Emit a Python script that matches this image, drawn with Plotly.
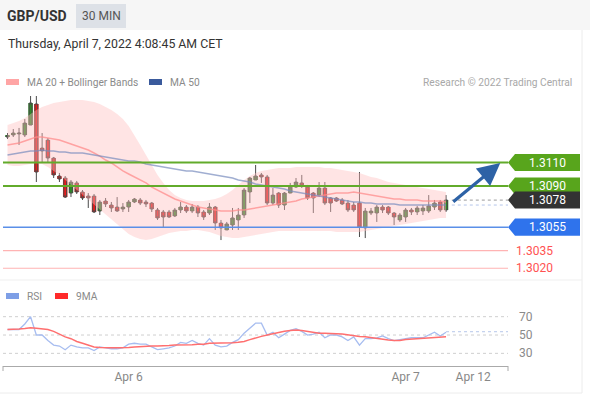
import plotly.graph_objects as go

W, H = 590, 398

# ---------------- data ----------------
idx = list(range(77))
open_ = [1.31317, 1.31334, 1.31343, 1.31334, 1.31419, 1.31598, 1.31223, 1.31291, 1.31138, 1.30985,
         1.30968, 1.30840, 1.30926, 1.30849, 1.30815, 1.30815, 1.30687, 1.30772, 1.30738, 1.30721,
         1.30704, 1.30721, 1.30764, 1.30781, 1.30764, 1.30755, 1.30696, 1.30679, 1.30679, 1.30645,
         1.30696, 1.30721, 1.30687, 1.30721, 1.30679, 1.30670, 1.30721, 1.30585, 1.30526, 1.30568,
         1.30611, 1.30653, 1.30849, 1.30951, 1.30994, 1.30977, 1.30755, 1.30840, 1.30738, 1.30840,
         1.30891, 1.30926, 1.30891, 1.30840, 1.30823, 1.30883, 1.30798, 1.30798, 1.30781, 1.30755,
         1.30738, 1.30755, 1.30543, 1.30670, 1.30670, 1.30721, 1.30721, 1.30670, 1.30611, 1.30636,
         1.30696, 1.30679, 1.30687, 1.30687, 1.30721, 1.30764, 1.30696]
high = [1.31351, 1.31385, 1.31394, 1.31470, 1.31666, 1.31666, 1.31351, 1.31308, 1.31147, 1.31011,
        1.30985, 1.30951, 1.30943, 1.30866, 1.30840, 1.30832, 1.30781, 1.30798, 1.30764, 1.30806,
        1.30755, 1.30781, 1.30798, 1.30798, 1.30781, 1.30764, 1.30713, 1.30696, 1.30696, 1.30713,
        1.30764, 1.30738, 1.30747, 1.30738, 1.30696, 1.30755, 1.30730, 1.30611, 1.30594, 1.30713,
        1.30713, 1.30883, 1.30977, 1.31079, 1.31011, 1.30994, 1.30883, 1.30849, 1.30849, 1.30926,
        1.30968, 1.30994, 1.30909, 1.30849, 1.30934, 1.30934, 1.30806, 1.30806, 1.30798, 1.30781,
        1.30764, 1.31019, 1.30713, 1.30713, 1.30738, 1.30738, 1.30730, 1.30679, 1.30670, 1.30713,
        1.30713, 1.30730, 1.30738, 1.30823, 1.30781, 1.30781, 1.30823]
low = [1.31300, 1.31317, 1.31249, 1.31317, 1.31419, 1.30934, 1.31104, 1.31104, 1.30968, 1.30934,
       1.30798, 1.30806, 1.30832, 1.30781, 1.30713, 1.30670, 1.30653, 1.30721, 1.30679, 1.30679,
       1.30679, 1.30679, 1.30755, 1.30738, 1.30721, 1.30679, 1.30611, 1.30543, 1.30628, 1.30636,
       1.30670, 1.30670, 1.30670, 1.30636, 1.30611, 1.30653, 1.30526, 1.30440, 1.30526, 1.30526,
       1.30526, 1.30628, 1.30755, 1.30951, 1.30926, 1.30738, 1.30738, 1.30713, 1.30696, 1.30840,
       1.30883, 1.30883, 1.30781, 1.30670, 1.30806, 1.30738, 1.30679, 1.30764, 1.30738, 1.30679,
       1.30679, 1.30466, 1.30457, 1.30653, 1.30594, 1.30670, 1.30653, 1.30568, 1.30594, 1.30594,
       1.30653, 1.30653, 1.30653, 1.30670, 1.30696, 1.30679, 1.30679]
close = [1.31326, 1.31351, 1.31351, 1.31436, 1.31606, 1.31019, 1.31198, 1.31138, 1.30994, 1.30960,
         1.30806, 1.30934, 1.30849, 1.30798, 1.30798, 1.30679, 1.30764, 1.30747, 1.30713, 1.30687,
         1.30721, 1.30764, 1.30789, 1.30755, 1.30747, 1.30704, 1.30628, 1.30636, 1.30636, 1.30696,
         1.30721, 1.30687, 1.30721, 1.30670, 1.30636, 1.30721, 1.30585, 1.30543, 1.30577, 1.30628,
         1.30653, 1.30866, 1.30968, 1.30985, 1.30977, 1.30755, 1.30823, 1.30738, 1.30840, 1.30891,
         1.30934, 1.30900, 1.30798, 1.30798, 1.30883, 1.30755, 1.30755, 1.30772, 1.30747, 1.30696,
         1.30696, 1.30551, 1.30687, 1.30687, 1.30721, 1.30696, 1.30670, 1.30636, 1.30653, 1.30696,
         1.30679, 1.30713, 1.30713, 1.30730, 1.30755, 1.30696, 1.30781]

ma20 = [1.31249, 1.31257, 1.31266, 1.31283, 1.31300, 1.31317, 1.31317, 1.31308, 1.31300, 1.31291,
        1.31274, 1.31257, 1.31240, 1.31223, 1.31206, 1.31181, 1.31155, 1.31121, 1.31096, 1.31062,
        1.31028, 1.31002, 1.30977, 1.30951, 1.30926, 1.30891, 1.30866, 1.30840, 1.30815, 1.30789,
        1.30772, 1.30755, 1.30738, 1.30721, 1.30713, 1.30704, 1.30696, 1.30687, 1.30687, 1.30687,
        1.30696, 1.30696, 1.30704, 1.30713, 1.30721, 1.30730, 1.30738, 1.30747, 1.30755, 1.30764,
        1.30772, 1.30789, 1.30798, 1.30806, 1.30815, 1.30823, 1.30832, 1.30840, 1.30840, 1.30840,
        1.30849, 1.30840, 1.30832, 1.30823, 1.30815, 1.30806, 1.30798, 1.30789, 1.30789, 1.30781,
        1.30781, 1.30781, 1.30772, 1.30772, 1.30772, 1.30772, 1.30764]
ma50 = [1.31164, 1.31172, 1.31181, 1.31189, 1.31198, 1.31198, 1.31206, 1.31198, 1.31198, 1.31189,
        1.31189, 1.31181, 1.31181, 1.31181, 1.31172, 1.31164, 1.31155, 1.31147, 1.31138, 1.31130,
        1.31121, 1.31113, 1.31113, 1.31104, 1.31087, 1.31079, 1.31070, 1.31062, 1.31053, 1.31045,
        1.31036, 1.31028, 1.31028, 1.31019, 1.31011, 1.31002, 1.30994, 1.30985, 1.30977, 1.30968,
        1.30951, 1.30943, 1.30934, 1.30917, 1.30909, 1.30900, 1.30891, 1.30883, 1.30874, 1.30857,
        1.30849, 1.30840, 1.30832, 1.30823, 1.30815, 1.30806, 1.30798, 1.30789, 1.30781, 1.30772,
        1.30764, 1.30764, 1.30755, 1.30755, 1.30747, 1.30747, 1.30747, 1.30747, 1.30738, 1.30738,
        1.30738, 1.30738, 1.30738, 1.30738, 1.30738, 1.30738, 1.30738]
bb_upper = [1.31419, 1.31436, 1.31453, 1.31479, 1.31513, 1.31547, 1.31572, 1.31589, 1.31606, 1.31615,
            1.31623, 1.31632, 1.31632, 1.31632, 1.31623, 1.31615, 1.31598, 1.31572, 1.31547, 1.31513,
            1.31470, 1.31411, 1.31334, 1.31249, 1.31164, 1.31079, 1.30994, 1.30926, 1.30866, 1.30823,
            1.30798, 1.30781, 1.30772, 1.30772, 1.30772, 1.30781, 1.30789, 1.30806, 1.30832, 1.30866,
            1.30909, 1.30951, 1.30985, 1.31011, 1.31028, 1.31036, 1.31045, 1.31053, 1.31053, 1.31053,
            1.31062, 1.31062, 1.31062, 1.31062, 1.31062, 1.31053, 1.31053, 1.31045, 1.31036, 1.31028,
            1.31019, 1.31011, 1.30994, 1.30977, 1.30968, 1.30951, 1.30934, 1.30926, 1.30917, 1.30909,
            1.30900, 1.30891, 1.30883, 1.30874, 1.30866, 1.30857, 1.30849]
bb_lower = [1.31079, 1.31070, 1.31070, 1.31079, 1.31087, 1.31096, 1.31087, 1.31062, 1.31028, 1.30994,
            1.30951, 1.30909, 1.30866, 1.30823, 1.30781, 1.30738, 1.30696, 1.30653, 1.30611, 1.30568,
            1.30526, 1.30492, 1.30466, 1.30449, 1.30440, 1.30449, 1.30466, 1.30483, 1.30500, 1.30509,
            1.30517, 1.30517, 1.30526, 1.30526, 1.30517, 1.30509, 1.30492, 1.30474, 1.30466, 1.30457,
            1.30457, 1.30466, 1.30474, 1.30483, 1.30492, 1.30500, 1.30509, 1.30517, 1.30517, 1.30517,
            1.30517, 1.30517, 1.30517, 1.30517, 1.30517, 1.30517, 1.30517, 1.30509, 1.30509, 1.30509,
            1.30509, 1.30509, 1.30517, 1.30526, 1.30534, 1.30543, 1.30551, 1.30560, 1.30568, 1.30577,
            1.30585, 1.30594, 1.30602, 1.30611, 1.30619, 1.30628, 1.30628]

rsi = [56, 56, 56, 62, 70, 50, 50, 44, 39, 38, 34, 39, 37, 36, 36, 33, 37, 36, 35, 35,
       36, 40, 41, 40, 40, 37, 34, 35, 36, 38, 42, 41, 44, 41, 39, 46, 39, 37, 38, 42,
       45, 52, 58, 63, 63, 50, 53, 47, 51, 55, 57, 54, 50, 51, 53, 47, 50, 50, 48, 44,
       48, 39, 46, 46, 47, 49, 46, 44, 45, 46, 47, 47, 47, 50, 53, 49, 53]
rsi_ma9 = [56, 56, 56.5, 57, 58, 57.5, 56.5, 56, 54, 51, 48, 46, 43, 41, 39, 37, 36.5, 36, 36, 36,
           36, 36.5, 37, 37.5, 38, 38, 38, 38, 38.5, 39, 39, 39, 39.5, 40, 40, 41, 41, 41, 41, 41.5,
           42, 43, 45, 47, 48.5, 50, 51.5, 53, 54, 55, 55.5, 55, 54, 52.5, 52, 52, 52, 51.5, 51, 50,
           49.5, 48.5, 48, 47, 46, 45, 44.5, 44, 44, 45, 45.5, 46, 46.5, 47, 47.5, 48, 48]
rsi_last_ext = 53.6
rsi_levels = [70, 50, 30]

resistances = [1.3110, 1.3090]
current_price = 1.3078
support = 1.3055
supports_extra = [1.3035, 1.3020]
arrow_from = (77.0, 1.30755)
arrow_to = (85.4, 1.31096)

tick_vals = [21, 69, 80.7]
tick_text = ["Apr 6", "Apr 7", "Apr 12"]

# ---------------- helpers ----------------
FONT = "Roboto, Arial, sans-serif"
PX_PER_PRICE = 11750.0
UP_COLOR, DOWN_COLOR, WICK_COLOR = "#2c8a26", "#ea1a1a", "#4a4a4a"


def px(x):
    return x / W


def py(y):
    return 1 - y / H


fig = go.Figure()

fig.add_trace(go.Scatter(x=idx, y=bb_upper, mode="lines", line=dict(width=0, color="rgba(0,0,0,0)"),
                         yaxis="y", hoverinfo="skip", showlegend=False))
fig.add_trace(go.Scatter(x=idx, y=bb_lower, mode="lines", line=dict(width=0, color="rgba(0,0,0,0)"),
                         fill="tonexty", fillcolor="rgba(255,190,190,0.42)", yaxis="y",
                         hoverinfo="skip", showlegend=False))
fig.add_trace(go.Scatter(x=idx, y=ma20, mode="lines", line=dict(width=1.5, color="rgba(255,140,140,0.75)"),
                         yaxis="y", showlegend=False))
fig.add_trace(go.Scatter(x=idx, y=ma50, mode="lines", line=dict(width=1.5, color="rgba(120,140,190,0.7)"),
                         yaxis="y", showlegend=False))

# wicks (candlestick) + bodies (bars)
fig.add_trace(go.Candlestick(
    x=idx, open=open_, high=high, low=low, close=close,
    increasing=dict(line=dict(color=WICK_COLOR, width=1), fillcolor=UP_COLOR),
    decreasing=dict(line=dict(color=WICK_COLOR, width=1), fillcolor=DOWN_COLOR),
    whiskerwidth=0, yaxis="y", showlegend=False))
body_base = [min(o, c) for o, c in zip(open_, close)]
body_len = [abs(c - o) for o, c in zip(open_, close)]
body_col = [UP_COLOR if c >= o else DOWN_COLOR for o, c in zip(open_, close)]
fig.add_trace(go.Bar(x=idx, y=body_len, base=body_base, width=0.78, yaxis="y",
                     marker=dict(color=body_col, line=dict(width=0)), showlegend=False, hoverinfo="skip"))

fig.add_trace(go.Scatter(x=[idx[-1] + 1, 86.74], y=[current_price, current_price], mode="lines",
                         line=dict(width=1, color="#9a9a9a", dash="dot"), yaxis="y", showlegend=False))
fig.add_trace(go.Scatter(x=[idx[-1] + 1, 86.74], y=[ma50[-1], ma50[-1]], mode="lines",
                         line=dict(width=1, color="#b5c6ea", dash="dot"), yaxis="y", showlegend=False))

fig.add_trace(go.Scatter(x=idx, y=rsi, mode="lines", line=dict(width=1.3, color="#a7bdf0"),
                         yaxis="y2", showlegend=False))
fig.add_trace(go.Scatter(x=idx, y=rsi_ma9, mode="lines", line=dict(width=1.5, color="#ff6f6f"),
                         yaxis="y2", showlegend=False))
fig.add_trace(go.Scatter(x=[idx[-1], 86.74], y=[rsi_last_ext, rsi_last_ext], mode="lines",
                         line=dict(width=1, color="#b5c6ea", dash="dot"), yaxis="y2", showlegend=False))

shapes = []
annotations = []

shapes.append(dict(type="rect", xref="paper", yref="paper", x0=0, x1=1, y0=py(30), y1=1,
                   fillcolor="#f6f6f6", line=dict(width=0), layer="below"))
shapes.append(dict(type="rect", xref="paper", yref="paper", x0=px(76), x1=px(126), y0=py(28), y1=py(4),
                   fillcolor="#dde1e7", line=dict(width=0), layer="below"))
shapes.append(dict(type="line", xref="paper", yref="paper", x0=px(582), x1=px(582), y0=py(30), y1=py(393),
                   line=dict(color="#ececec", width=1)))
shapes.append(dict(type="line", xref="paper", yref="paper", x0=0, x1=px(582), y0=py(393), y1=py(393),
                   line=dict(color="#ececec", width=1)))
shapes.append(dict(type="line", xref="paper", yref="paper", x0=0, x1=px(582), y0=py(280), y1=py(280),
                   line=dict(color="#efefef", width=1)))

annotations.append(dict(text="<b>GBP/USD</b>", x=px(5), y=py(16), xref="paper", yref="paper",
                        xanchor="left", yanchor="middle", showarrow=False,
                        font=dict(family=FONT, size=14, color="#333333")))
annotations.append(dict(text="30 MIN", x=px(101), y=py(16), xref="paper", yref="paper",
                        xanchor="center", yanchor="middle", showarrow=False,
                        font=dict(family=FONT, size=12, color="#555555")))
annotations.append(dict(text="Thursday, April 7, 2022 4:08:45 AM CET", x=px(6), y=py(44), xref="paper",
                        yref="paper", xanchor="left", yanchor="middle", showarrow=False,
                        font=dict(family=FONT, size=12.3, color="#333333")))


def swatch(x0, x1, yc, color):
    shapes.append(dict(type="rect", xref="paper", yref="paper", x0=px(x0), x1=px(x1),
                       y0=py(yc + 3), y1=py(yc - 3), fillcolor=color, line=dict(width=0)))


def label(text, x, y, color="#8a8a8a", size=10.2, anchor="left"):
    annotations.append(dict(text=text, x=px(x), y=py(y), xref="paper", yref="paper",
                            xanchor=anchor, yanchor="middle", showarrow=False,
                            font=dict(family=FONT, size=size, color=color)))


swatch(6, 19, 82, "#ffa5a5")
label("MA 20 + Bollinger Bands", 25, 82)
swatch(149, 162, 82, "#3a5a9c")
label("MA 50", 168, 82)
label("Research © 2022 Trading Central", 574, 82, color="#a8a8a8", size=10.2, anchor="right")
swatch(6, 19, 296, "#7e9fe6")
label("RSI", 25, 296)
swatch(55, 68, 296, "#ff2a2a")
label("9MA", 74, 296)

x_left, x_right = px(3), px(508)
for lvl in resistances:
    shapes.append(dict(type="line", xref="paper", yref="y", x0=x_left, x1=x_right, y0=lvl, y1=lvl,
                       line=dict(color="#62ab2b", width=2), layer="above"))
shapes.append(dict(type="line", xref="paper", yref="y", x0=x_left, x1=x_right, y0=support, y1=support,
                   line=dict(color="#5a8fe8", width=1.5), layer="above"))
for lvl in supports_extra:
    shapes.append(dict(type="line", xref="paper", yref="y", x0=x_left, x1=x_right, y0=lvl, y1=lvl,
                       line=dict(color="#ffb3b3", width=1.2), layer="above"))

half = 8.5 / PX_PER_PRICE


def tag(level, color):
    xt, xb, xr = px(508), px(515), px(580)
    path = (f"M {xt} {level} L {xb} {level + half} L {xr} {level + half} "
            f"L {xr} {level - half} L {xb} {level - half} Z")
    shapes.append(dict(type="path", xref="paper", yref="y", path=path, fillcolor=color,
                       line=dict(width=0), layer="above"))
    annotations.append(dict(text=f"{level:.4f}", x=px(547), y=level, xref="paper", yref="y",
                            xanchor="center", yanchor="middle", showarrow=False,
                            font=dict(family=FONT, size=12, color="white")))


tag(resistances[0], "#58a51c")
tag(resistances[1], "#58a51c")
tag(current_price, "#333333")
tag(support, "#2f73ec")
for lvl in supports_extra:
    annotations.append(dict(text=f"{lvl:.4f}", x=px(534), y=lvl, xref="paper", yref="y",
                            xanchor="center", yanchor="middle", showarrow=False,
                            font=dict(family=FONT, size=12, color="#ff5252")))

annotations.append(dict(x=arrow_to[0], y=arrow_to[1], ax=arrow_from[0], ay=arrow_from[1],
                        xref="x", yref="y", axref="x", ayref="y", text="", showarrow=True,
                        arrowhead=2, arrowsize=1.4, arrowwidth=3.2, arrowcolor="#2d62a6"))

for lv in rsi_levels:
    shapes.append(dict(type="line", xref="paper", yref="y2", x0=x_left, x1=x_right, y0=lv, y1=lv,
                       line=dict(color="#cfcfcf", width=1, dash="dot"), layer="below"))
    annotations.append(dict(text=str(lv), x=px(517), y=lv, xref="paper", yref="y2", xanchor="left",
                            yanchor="middle", showarrow=False,
                            font=dict(family=FONT, size=12, color="#8a8a8a")))

for xe in (3, 508):
    shapes.append(dict(type="line", xref="paper", yref="paper", x0=px(xe), x1=px(xe), y0=py(366),
                       y1=py(371), line=dict(color="#aaaaaa", width=1)))

fig.update_layout(
    width=W, height=H, margin=dict(l=0, r=0, t=0, b=0),
    paper_bgcolor="white", plot_bgcolor="rgba(0,0,0,0)",
    showlegend=False, shapes=shapes, annotations=annotations,
    font=dict(family=FONT), barmode="overlay",
    xaxis=dict(domain=[px(3), px(508)], range=[-0.78, 86.74], anchor="y2",
               showgrid=False, zeroline=False, showline=True, linecolor="#aaaaaa", linewidth=1,
               tickvals=tick_vals, ticktext=tick_text, ticks="",
               tickfont=dict(family=FONT, size=12, color="#888888"),
               rangeslider=dict(visible=False), fixedrange=True),
    yaxis=dict(domain=[py(278), py(90)], range=[1.3090 - 92 / PX_PER_PRICE, 1.3090 + 96 / PX_PER_PRICE],
               visible=False, fixedrange=True),
    yaxis2=dict(domain=[py(366), py(300)], range=[16.2, 88.2], visible=False, fixedrange=True),
)

fig.write_html("out.html", config={"displayModeBar": False},
               post_script="document.body.style.margin='0';document.body.style.overflow='hidden';")
